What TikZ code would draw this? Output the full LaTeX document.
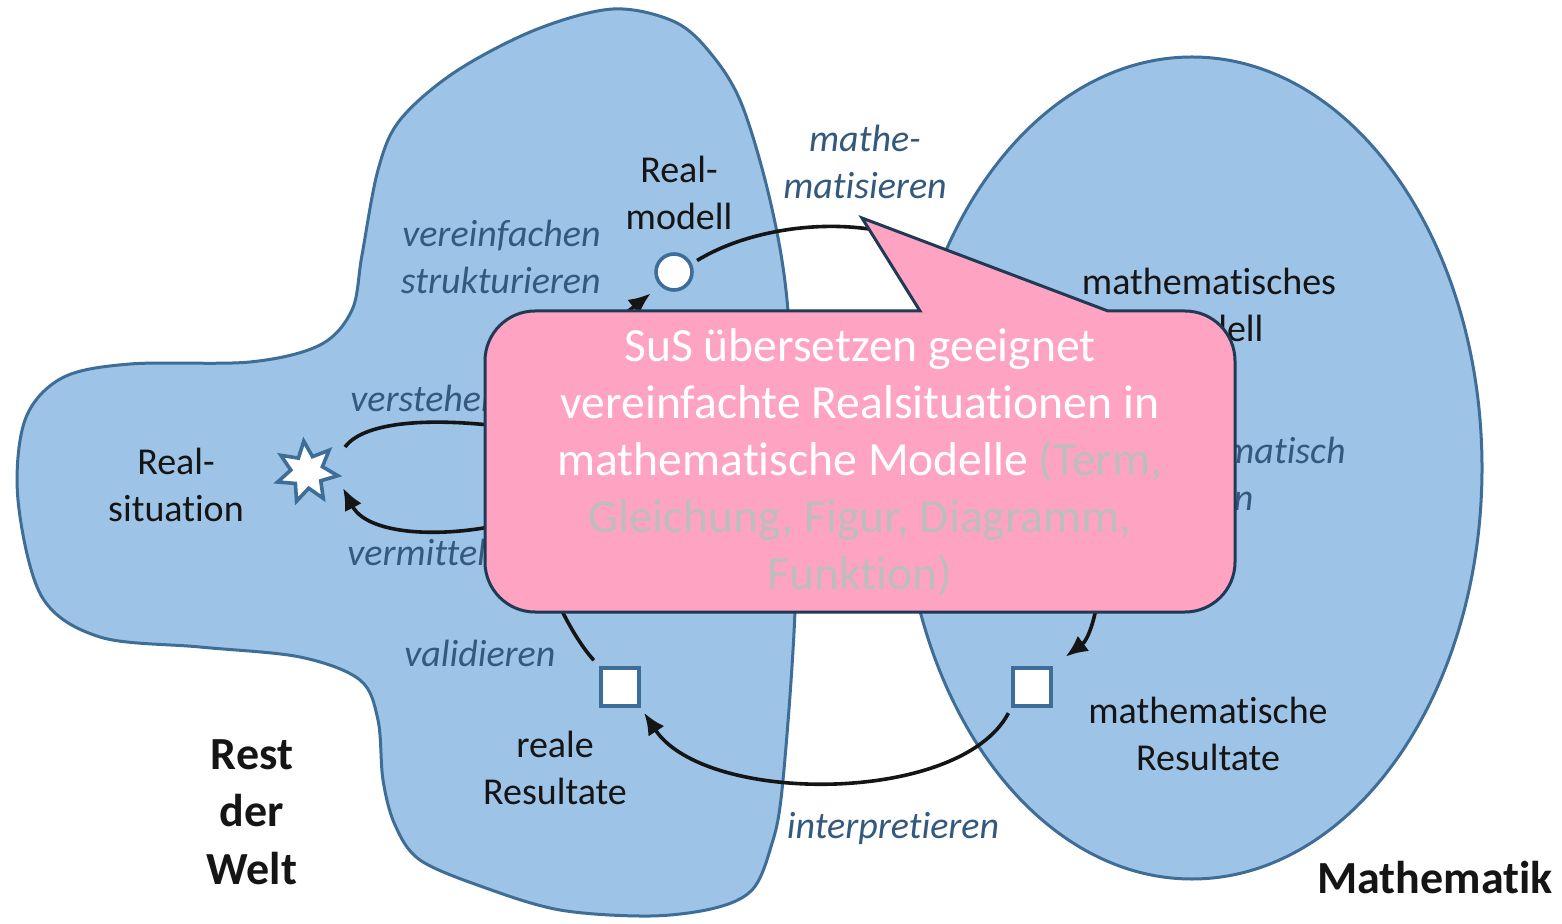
\documentclass[tikz,border=0pt]{standalone}
\usepackage{fontspec}
\setmainfont{Carlito}[Ligatures=NoCommon]
\usetikzlibrary{shapes.geometric,arrows.meta,calc}
\definecolor{blobfill}{HTML}{9DC3E6}
\definecolor{blobline}{HTML}{3E6E98}
\definecolor{actblue}{HTML}{33597F}
\definecolor{callfill}{HTML}{FFA3C3}
\definecolor{callline}{HTML}{203A55}
\definecolor{callgrey}{HTML}{BDBDBD}
\definecolor{txt}{HTML}{151515}
\begin{document}
\begin{tikzpicture}[x=0.5pt,y=-0.5pt,
  blob/.style={fill=blobfill, draw=blobline, line width=1.5pt},
  lbl/.style={font=\fontsize{19}{23.5}\selectfont, text=txt, align=center, inner sep=0pt},
  act/.style={font=\fontsize{19}{23.5}\selectfont\itshape, text=actblue, inner sep=0pt},
  big/.style={font=\fontsize{23}{28.75}\selectfont\bfseries, text=txt, align=center, inner sep=0pt},
  hollow/.style={fill=white, draw=blobline, line width=1.8pt, inner sep=0pt},
  conn/.style={draw=txt, line width=1.8pt},
  arr/.style={draw=txt, line width=1.8pt, -{Latex[length=11pt,width=9.5pt]}},
  callbox/.style={fill=callfill, draw=callline, line width=1.5pt},
  calltxt/.style={font=\fontsize{23.8}{28.5}\selectfont, text=white, align=center, inner sep=0pt}
]
\useasboundingbox (0,0) rectangle (1562,924);
\fill[white] (0,0) rectangle (1562,924);

% regions
\draw[blob] plot[smooth cycle, tension=0.55] coordinates {
  (613,9) (675,22) (712,55) (742,105) (770,200) (787,300) (794,450)
  (795,610) (782,790) (770,850) (752,890) (715,908) (650,916) (560,910)
  (483,887) (420,860) (395,825) (383,780) (378,720) (360,680) (300,657)
  (200,647) (100,637) (42,597) (18,500) (25,420) (62,378) (130,364)
  (250,362) (320,345) (352,310) (362,255) (378,170) (400,120) (455,72) (535,30)};
\draw[blob] (1192,468) ellipse [x radius=290, y radius=411];

% labels
\node[lbl] (lrm) at (679,193) {Real-\\modell};
\node[lbl] (lrs) at (176,485) {Real-\\situation};
\node[lbl] (lmm) at (1209,305) {mathematisches\\Modell};
\node[lbl] (lmr) at (1208,734) {mathematische\\Resultate};
\node[lbl] (lrr) at (555,768) {reale\\Resultate};
\node[big] (lrw) at (252,812) {Rest\\der\\Welt};
\node[big, anchor=east] (lma) at (1553,878) {Mathematik};

\node[act, align=center] (amat) at (865,162) {mathe-\\matisieren};
\node[act, align=right, anchor=east] (aver) at (601,257) {vereinfachen\\strukturieren};
\node[act, anchor=west] (aste) at (350,398) {verstehen};
\node[act, anchor=west] (avmt) at (347,552) {vermitteln};
\node[act, align=left, anchor=west] (aarb) at (1124,474) {mathematisch\\arbeiten};
\node[act, anchor=west] (aval) at (404,653) {validieren};
\node[act] (aint) at (893,828) {interpretieren};

% model nodes
\node[hollow, star, star points=7, star point ratio=1.9, minimum size=31pt, rotate=6] (star) at (307,472) {};
\node[hollow, circle, minimum size=18pt] (circ) at (674,272) {};
\node[hollow, minimum size=19pt] (sqL) at (620,687) {};
\node[hollow, minimum size=19pt] (sqR) at (1032,687) {};

% hidden ends (under the callout)
\coordinate (smTop) at (540,432);
\coordinate (smBot) at (545,512);
\coordinate (smUp) at (602,332);
\coordinate (smLow) at (550,585);
\coordinate (mmL) at (940,252);
\coordinate (mmD) at (1100,575);

% connectors
\draw[conn] ($(star)+(38,-25)$) .. controls (365,420) and (440,415) .. (smTop);
\draw[arr] (smBot) .. controls (470,540) and (370,540) .. ($(star)+(36,16)$);
\draw[arr, shorten >=6pt] (smUp) -- (circ.225);
\draw[conn, shorten <=3pt] (circ.25) .. controls (760,222) and (870,212) .. (mmL);
\draw[arr, shorten >=8pt] (mmD) .. controls (1098,615) and (1088,640) .. (sqR.north east);
\draw[arr, shorten <=3pt, shorten >=3pt] (sqR.south west) .. controls (960,805) and (705,805) .. (sqL.south east);
\draw[conn, shorten <=4pt] (sqL.north west) .. controls (580,645) and (565,620) .. (smLow);

% callout
\draw[callbox]
  (920,311) -- (862,218) -- (1108,311) -- (1185,311)
  .. controls (1212.6,311) and (1235,333.4) .. (1235,361)
  -- (1235,562)
  .. controls (1235,589.6) and (1212.6,612) .. (1185,612)
  -- (535,612)
  .. controls (507.4,612) and (485,589.6) .. (485,562)
  -- (485,361)
  .. controls (485,333.4) and (507.4,311) .. (535,311)
  -- cycle;
\node[calltxt] (ctext) at (860,462) {SuS übersetzen geeignet\\vereinfachte Realsituationen in\\mathematische Modelle {\color{callgrey}(Term,}\\{\color{callgrey}Gleichung, Figur, Diagramm,}\\{\color{callgrey}Funktion)}};
\end{tikzpicture}
\end{document}
